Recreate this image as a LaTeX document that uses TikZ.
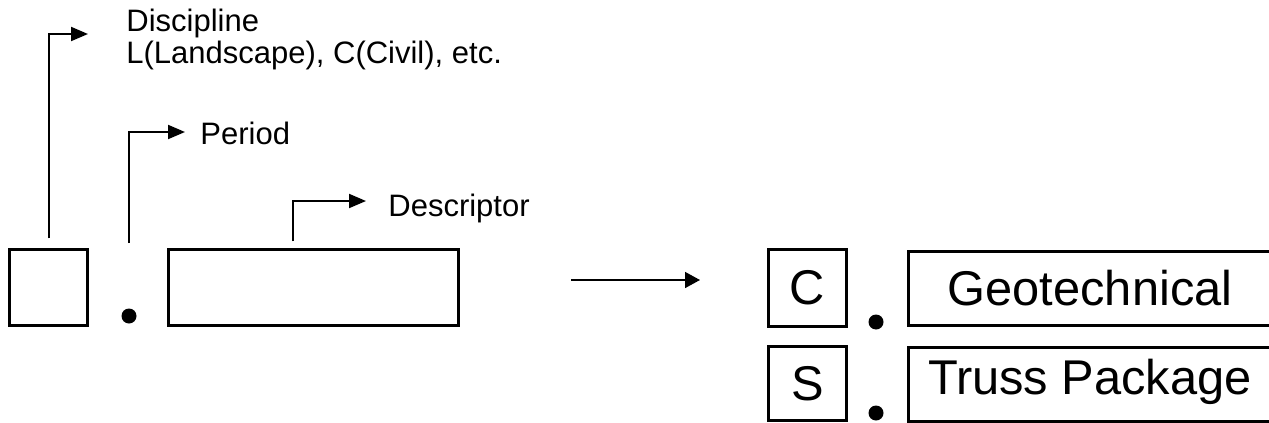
\documentclass[tikz,border=0pt]{standalone}
\usepackage{fontspec}
\setmainfont{Liberation Sans}
\usetikzlibrary{arrows.meta}
\begin{document}
\begin{tikzpicture}[x=0.5pt,y=-0.5pt,
    field/.style={draw,line width=1.65pt,inner sep=0pt,minimum height=38pt},
    conn/.style={line width=1pt,-{Triangle[length=8.5pt,width=7pt]}},
    note/.style={anchor=base west,inner sep=0pt,font=\fontsize{15.5}{18}\selectfont},
    big/.style={font=\fontsize{24.4}{29}\selectfont}]
    \useasboundingbox (0,0) rectangle (1269,423);
    \clip (0,0) rectangle (1269,423);
    \def\dotr{3.75pt}
    % empty code template
    \node[field,minimum width=39pt] (disc) at (48.5,287.5) {};
    \fill (129,316) circle (\dotr);
    \node[field,minimum width=145pt] (desc) at (313.5,287.5) {};
    % leaders to the labels
    \coordinate (discTip) at (88,34);
    \coordinate (perFoot) at (129,243);
    \coordinate (perTip) at (185,132);
    \coordinate (descTip) at (366,201);
    \draw[conn] ([yshift=4.75pt]disc.north) |- (discTip);
    \draw[conn] (perFoot) |- (perTip);
    \draw[conn] ([xshift=-10.25pt,yshift=3.25pt]desc.north) |- (descTip);
    \node[note] (discLbl) at (126,32) {Discipline};
    \node[note] (discEx) at (126,63) {L(Landscape), C(Civil), etc.};
    \node[note] (perLbl) at (200,144) {Period};
    \node[note] (descLbl) at (388,216) {Descriptor};
    % example
    \coordinate (mapFrom) at (571,280);
    \coordinate (mapTo) at (700,280);
    \draw[line width=0.8pt,-{Triangle[length=7.5pt,width=8pt]}] (mapFrom) -- (mapTo);
    \node[field,big,minimum width=39pt,minimum height=38.5pt] (cBox) at (807.5,288) {C};
    \fill (876,322) circle (\dotr);
    \node[field,big,minimum width=181.75pt,minimum height=37pt] (geoBox) at (1090,288.5) {Geotechnical};
    \node[field,big,minimum width=39pt,minimum height=37pt] (sBox) at (807.5,383.5) {S};
    \fill (876,413) circle (\dotr);
    \node[field,big,minimum width=181.75pt,minimum height=37pt,text depth=8pt] (trussBox) at (1090,384.5) {Truss Package};
\end{tikzpicture}
\end{document}
